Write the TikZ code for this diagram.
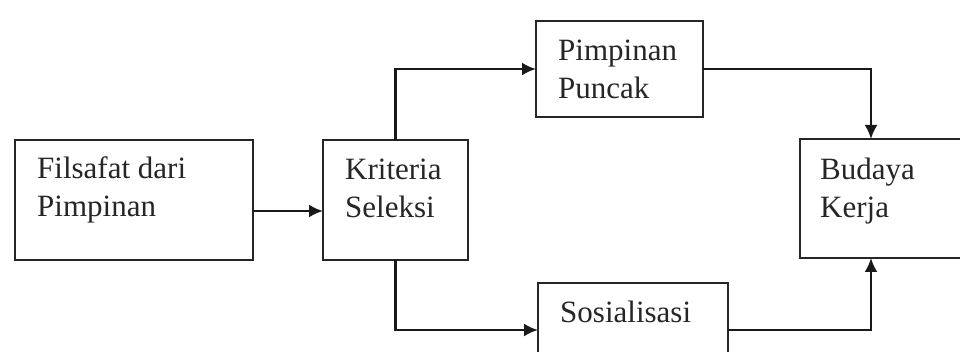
\documentclass[tikz,border=0pt]{standalone}
\usepackage{fontspec}
\setmainfont{Liberation Serif}
\usetikzlibrary{arrows.meta}
\begin{document}
\begin{tikzpicture}[x=1pt,y=-1pt,
  boxnode/.style={draw=black!85, line width=2.8pt, anchor=north west, inner sep=0pt, outer sep=0pt},
  lbl/.style={anchor=base west, inner sep=0pt, align=left, text=black!85, font=\fontsize{31}{38}\selectfont},
  conn/.style={draw=black!90, line width=2.4pt, -{Latex[length=14pt,width=13pt]}}]
\clip (0,0) rectangle (960,352);
\fill[white] (0,0) rectangle (960,352);
% boxes
\node[boxnode, minimum width=238pt, minimum height=120pt] (f) at (15,140) {};
\node[boxnode, minimum width=145pt, minimum height=120pt] (k) at (323,140) {};
\node[boxnode, minimum width=167pt, minimum height=96pt] (p) at (536,21) {};
\node[boxnode, minimum width=170pt, minimum height=119pt] (b) at (800,139) {};
\node[boxnode, minimum width=190pt, minimum height=94pt] (s) at (538,283) {};
% texts (anchor at the baseline of the last line)
\node[lbl] (ft) at (37,217) {Filsafat dari\\Pimpinan};
\node[lbl] (kt) at (345,218) {Kriteria\\Seleksi};
\node[lbl] (pt) at (558,99) {Pimpinan\\Puncak};
\node[lbl] (bt) at (820,218) {Budaya\\Kerja};
\node[lbl] (st) at (560,323) {Sosialisasi};
% connector points
\coordinate (fout) at ([yshift=-11pt]f.east);
\coordinate (btop) at ([xshift=71pt]b.north west);
\coordinate (bbot) at ([xshift=71pt]b.south west);
% connectors
\draw[conn] (fout) -- (fout -| k.west);
\draw[conn] (k.north) |- (p.west);
\draw[conn] (p.east) -| (btop);
\draw[conn] (k.south) |- (s.west);
\draw[conn] (s.east) -| (bbot);
\end{tikzpicture}
\end{document}
